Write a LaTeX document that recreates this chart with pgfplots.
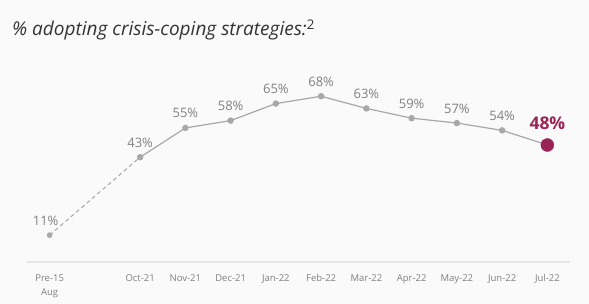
\documentclass[border=0pt]{standalone}
\usepackage{fontspec}
\setmainfont{Open Sans}
\usepackage{pgfplots}
\pgfplotsset{compat=1.18}
\definecolor{bgc}{HTML}{FAFAFA}
\definecolor{titlec}{HTML}{333333}
\definecolor{linec}{HTML}{A8A8A8}
\definecolor{labc}{HTML}{808080}
\definecolor{hic}{HTML}{9B2457}
\definecolor{axc}{HTML}{E6E6E6}
\begin{document}
\begin{tikzpicture}[x=1pt,y=1pt]
\fill[bgc] (0,0) rectangle (589,304);
\path[use as bounding box] (0,0) rectangle (589,304);
\node[anchor=base west, font=\fontsize{19}{22}\selectfont\itshape, text=titlec, inner sep=0] at (12,268) {\% adopting crisis-coping strategies:\textsuperscript{\upshape 2}};
\begin{axis}[at={(27pt,42pt)}, anchor=south west, scale only axis,
  width=543pt, height=195pt, xmin=-0.5, xmax=11.5, ymin=0, ymax=80,
  axis x line=bottom, axis y line=none,
  x axis line style={draw=axc, line width=1.5pt, -},
  xtick={0,2,3,4,5,6,7,8,9,10,11},
  xticklabels={{Pre-15\\Aug},Oct-21,Nov-21,Dec-21,Jan-22,Feb-22,Mar-22,Apr-22,May-22,Jun-22,Jul-22},
  xtick style={draw=none},
  ytick=\empty,
  x tick label style={font=\fontsize{9.5}{14.5}\selectfont, text=labc, align=center, yshift=-7pt},
  clip=false,
  nodes near coords style={font=\fontsize{13}{15}\selectfont, text=labc, anchor=south, yshift=6pt},
]
\addplot[linec, line width=1pt, dashed, dash pattern=on 4pt off 3pt] coordinates {(0,11) (2,43)};
\addplot[linec, line width=1.2pt, mark=*, mark size=2.6pt, mark options={fill=linec, draw=linec},
  nodes near coords, point meta=explicit symbolic]
  coordinates {(2,43)[43\%] (3,55)[55\%] (4,58)[58\%] (5,65)[65\%] (6,68)[68\%] (7,63)[63\%] (8,59)[59\%] (9,57)[57\%] (10,54)[54\%] (11,48)};
\addplot[linec, only marks, mark=*, mark size=2.6pt, mark options={fill=linec, draw=linec},
  nodes near coords, point meta=explicit symbolic, nodes near coords style={xshift=-4pt}]
  coordinates {(0,11)[11\%]};
\addplot[hic, only marks, mark=*, mark size=6.5pt, mark options={fill=hic, draw=hic},
  nodes near coords, point meta=explicit symbolic,
  nodes near coords style={font=\fontsize{17.5}{20}\selectfont\bfseries, text=hic, yshift=6pt}]
  coordinates {(11,48)[48\%]};
\end{axis}
\end{tikzpicture}
\end{document}
